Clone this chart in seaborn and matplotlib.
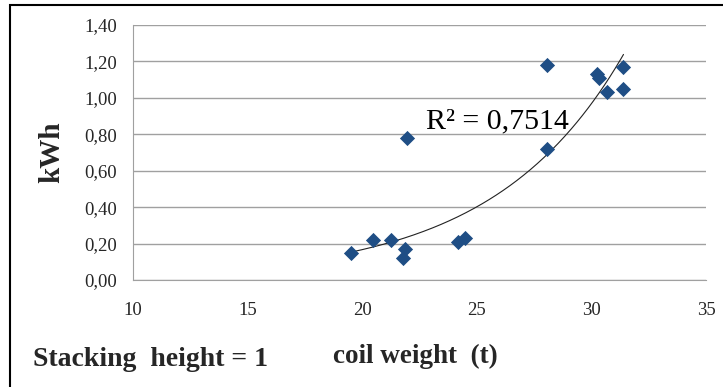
import numpy as np
import pandas as pd
import seaborn as sns
import matplotlib.pyplot as plt
from matplotlib.patches import Rectangle

# data
coil_weight = [19.5, 20.45, 21.25, 21.95, 21.85, 21.8, 24.2, 24.5, 28.05, 28.05, 30.25, 30.35, 30.7, 31.4, 31.4]
kwh = [0.15, 0.22, 0.22, 0.78, 0.17, 0.12, 0.21, 0.23, 1.18, 0.72, 1.13, 1.11, 1.03, 1.17, 1.05]
r2_text = "R² = 0,7514"
x_ticks = [10, 15, 20, 25, 30, 35]
y_ticks = [0.0, 0.2, 0.4, 0.6, 0.8, 1.0, 1.2, 1.4]

data = pd.DataFrame({"w": coil_weight, "e": kwh})

sns.set_style("white")
plt.rcParams['font.family'] = ['Liberation Serif', 'DejaVu Serif']

fig = plt.figure(figsize=(7.23, 3.87), dpi=100)
ax = fig.add_axes([133/723, 1 - 280/387, (706-133)/723, (280-25)/387])

sns.scatterplot(x="w", y="e", data=data, marker="D", s=60, color="#1f4e85",
                edgecolor="#1f4e85", linewidth=0, ax=ax, zorder=3)

# exponential trendline (fit on log of y, like excel)
b, lna = np.polyfit(data["w"], np.log(data["e"]), 1)
xs = np.linspace(min(coil_weight), max(coil_weight), 200)
ax.plot(xs, np.exp(lna) * np.exp(b * xs), color="#222222", lw=0.8, zorder=2)

ax.set_xlim(10, 35)
ax.set_ylim(0, 1.4)
ax.set_xticks(x_ticks)
ax.set_yticks(y_ticks)
ax.set_yticklabels([f"{v:.2f}".replace(".", ",") for v in y_ticks])
ax.tick_params(axis="both", labelsize=13.5, length=4.5, color="#999999", direction="out")
ax.tick_params(axis="y", pad=7)
ax.tick_params(axis="x", pad=11)
ax.grid(axis="y", color="#a0a0a0", lw=1)
ax.set_axisbelow(True)
for s in ["top", "right"]:
    ax.spines[s].set_visible(False)
for s in ["left", "bottom"]:
    ax.spines[s].set_color("#a0a0a0")

ax.set_xlabel("")
ax.set_ylabel("kWh", fontsize=21, fontweight="bold")
ax.yaxis.set_label_coords(-0.118, 0.5)

ax.text(22.8, 0.835, r2_text, fontsize=21.5, color="black")
fig.text(333/723, 1 - 356/387, "coil weight  (t)", fontsize=19.5, fontweight="bold", va="center")
fig.text(33/723, 1 - 360/387, "Stacking  height = 1", fontsize=20, fontweight="bold", va="center")

fig.patches.append(Rectangle((10/723, -0.05), 1.0, 1 - 5/387 + 0.05, transform=fig.transFigure,
                             fill=False, edgecolor="black", lw=1.5))

plt.savefig("out.png", dpi=100)
